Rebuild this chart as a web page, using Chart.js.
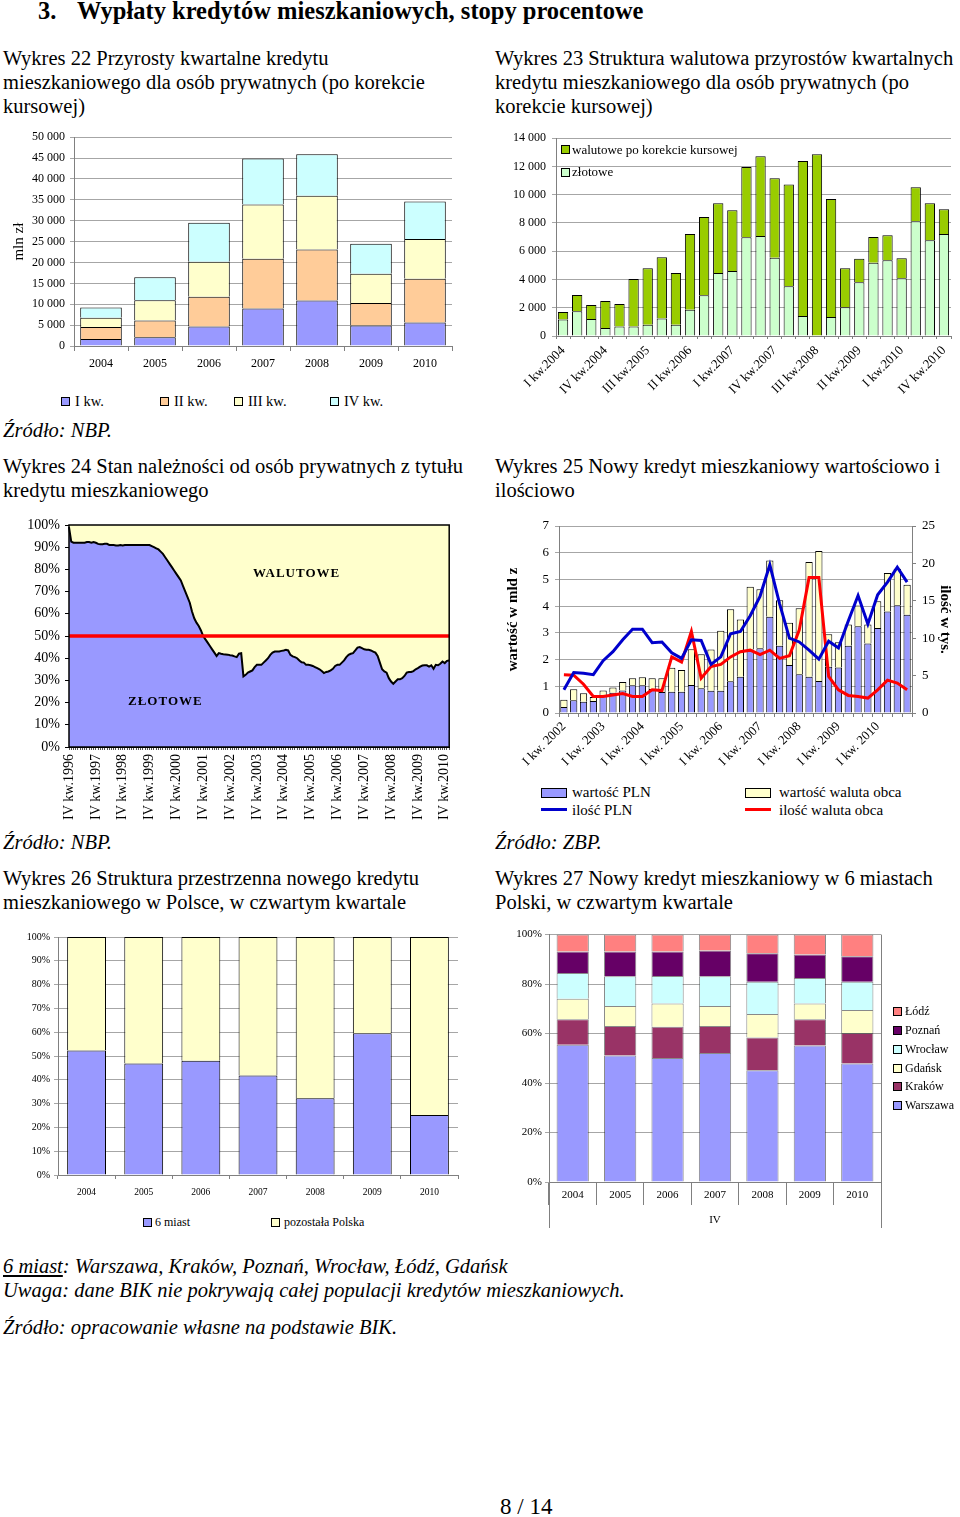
<!DOCTYPE html>
<html><head><meta charset="utf-8">
<script src="https://cdn.jsdelivr.net/npm/chart.js@4.4.1/dist/chart.umd.min.js"></script>
<style>
html,body{margin:0;padding:0;background:#fff;}
body{width:960px;height:1517px;position:relative;overflow:hidden;font-family:'Liberation Serif','Times New Roman',serif;color:#000;}
.t{position:absolute;white-space:nowrap;}
.h{font-size:20.5px;line-height:24px;}
.it{font-style:italic;}
.box{position:absolute;width:7px;height:7px;border:1px solid #000;}
canvas{position:absolute;}
</style></head><body>

<div class="t" style="left:38px;top:-3px;font-size:24.5px;line-height:28px;font-weight:bold;">3.</div>
<div class="t" style="left:77px;top:-3px;font-size:24.5px;line-height:28px;font-weight:bold;">Wypłaty kredytów mieszkaniowych, stopy procentowe</div>

<div class="t h" style="left:3px;top:46px;">Wykres 22 Przyrosty kwartalne kredytu<br>mieszkaniowego dla osób prywatnych (po korekcie<br>kursowej)</div>
<div class="t h" style="left:495px;top:46px;">Wykres 23 Struktura walutowa przyrostów kwartalnych<br>kredytu mieszkaniowego dla osób prywatnych (po<br>korekcie kursowej)</div>

<canvas id="c22" width="470" height="260" style="left:0;top:125px"></canvas>
<canvas id="c23" width="470" height="285" style="left:490px;top:125px"></canvas>

<div class="box" style="left:61px;top:397px;background:#9999FF"></div><div class="t" style="left:75px;top:392px;font-size:14.5px;line-height:18px;">I kw.</div>
<div class="box" style="left:160px;top:397px;background:#FFCC99"></div><div class="t" style="left:174px;top:392px;font-size:14.5px;line-height:18px;">II kw.</div>
<div class="box" style="left:234px;top:397px;background:#FFFFCC"></div><div class="t" style="left:248px;top:392px;font-size:14.5px;line-height:18px;">III kw.</div>
<div class="box" style="left:330px;top:397px;background:#CCFFFF"></div><div class="t" style="left:344px;top:392px;font-size:14.5px;line-height:18px;">IV kw.</div>

<div class="box" style="left:561px;top:145px;background:#99CC00"></div><div class="t" style="left:572px;top:142px;font-size:13px;line-height:16px;">walutowe po korekcie kursowej</div>
<div class="box" style="left:561px;top:168px;background:#CCFFCC"></div><div class="t" style="left:572px;top:164px;font-size:13px;line-height:16px;">złotowe</div>

<div class="t h it" style="left:3px;top:418px;">Źródło: NBP.</div>

<div class="t h" style="left:3px;top:454px;">Wykres 24 Stan należności od osób prywatnych z tytułu<br>kredytu mieszkaniowego</div>
<div class="t h" style="left:495px;top:454px;">Wykres 25 Nowy kredyt mieszkaniowy wartościowo i<br>ilościowo</div>

<canvas id="c24" width="470" height="320" style="left:0;top:510px"></canvas>
<canvas id="c25" width="470" height="270" style="left:490px;top:510px"></canvas>

<div class="t" style="left:253px;top:565px;font-size:13px;line-height:16px;font-weight:bold;letter-spacing:1px;">WALUTOWE</div>
<div class="t" style="left:128px;top:693px;font-size:13px;line-height:16px;font-weight:bold;letter-spacing:1px;">ZŁOTOWE</div>

<div class="t" style="left:541px;top:788px;width:24px;height:8px;border:1px solid #000;background:#9999FF"></div>
<div class="t" style="left:572px;top:783px;font-size:15px;line-height:18px;">wartość PLN</div>
<div class="t" style="left:745px;top:788px;width:24px;height:8px;border:1px solid #000;background:#FFFFCC"></div>
<div class="t" style="left:779px;top:783px;font-size:15px;line-height:18px;">wartość waluta obca</div>
<div class="t" style="left:541px;top:808px;width:26px;height:3px;background:#0000CC"></div>
<div class="t" style="left:572px;top:801px;font-size:15px;line-height:18px;">ilość PLN</div>
<div class="t" style="left:745px;top:808px;width:26px;height:3px;background:#FF0000"></div>
<div class="t" style="left:779px;top:801px;font-size:15px;line-height:18px;">ilość waluta obca</div>

<div class="t h it" style="left:3px;top:830px;">Źródło: NBP.</div>
<div class="t h it" style="left:495px;top:830px;">Źródło: ZBP.</div>

<div class="t h" style="left:3px;top:866px;">Wykres 26 Struktura przestrzenna nowego kredytu<br>mieszkaniowego w Polsce, w czwartym kwartale</div>
<div class="t h" style="left:495px;top:866px;">Wykres 27 Nowy kredyt mieszkaniowy w 6 miastach<br>Polski, w czwartym kwartale</div>

<canvas id="c26" width="470" height="280" style="left:0;top:925px"></canvas>
<canvas id="c27" width="470" height="310" style="left:490px;top:925px"></canvas>

<div class="box" style="left:143px;top:1218px;background:#9999FF"></div><div class="t" style="left:155px;top:1214px;font-size:12px;line-height:16px;">6 miast</div>
<div class="box" style="left:271px;top:1218px;background:#FFFFCC"></div><div class="t" style="left:284px;top:1214px;font-size:12px;line-height:16px;">pozostała Polska</div>

<div class="box" style="left:893px;top:1007px;background:#FF8080"></div><div class="t" style="left:905px;top:1003px;font-size:12px;line-height:16px;">Łódź</div>
<div class="box" style="left:893px;top:1026px;background:#660066"></div><div class="t" style="left:905px;top:1022px;font-size:12px;line-height:16px;">Poznań</div>
<div class="box" style="left:893px;top:1045px;background:#CCFFFF"></div><div class="t" style="left:905px;top:1041px;font-size:12px;line-height:16px;">Wrocław</div>
<div class="box" style="left:893px;top:1064px;background:#FFFFCC"></div><div class="t" style="left:905px;top:1060px;font-size:12px;line-height:16px;">Gdańsk</div>
<div class="box" style="left:893px;top:1082px;background:#993366"></div><div class="t" style="left:905px;top:1078px;font-size:12px;line-height:16px;">Kraków</div>
<div class="box" style="left:893px;top:1101px;background:#9999FF"></div><div class="t" style="left:905px;top:1097px;font-size:12px;line-height:16px;">Warszawa</div>

<div class="t h it" style="left:3px;top:1254px;"><span style="text-decoration:underline">6 miast</span>: Warszawa, Kraków, Poznań, Wrocław, Łódź, Gdańsk<br>Uwaga: dane BIK nie pokrywają całej populacji kredytów mieszkaniowych.</div>
<div class="t h it" style="left:3px;top:1315px;">Źródło: opracowanie własne na podstawie BIK.</div>

<div class="t" style="left:500px;top:1493px;font-size:23px;line-height:28px;">8 / 14</div>

<script>
// ---------- DATA ----------
// Wykres 22
const years22 = ['2004','2005','2006','2007','2008','2009','2010'];
const kw1_22 = [1700, 2100, 4650, 9000, 10900, 4900, 5600];
const kw2_22 = [2850, 4000, 7150, 11900, 12200, 5400, 10500];
const kw3_22 = [2200, 4850, 8400, 13000, 12900, 7000, 9500];
const kw4_22 = [2450, 5500, 9300, 11000, 9900, 7200, 9000];
const yTicks22 = [0, 5000, 10000, 15000, 20000, 25000, 30000, 35000, 40000, 45000, 50000];

// Wykres 23
const quarterNames = ['I','II','III','IV'];
const years23 = ['2004','2005','2006','2007','2008','2009','2010'];
const zlotowe23 = [1160, 1760, 1200, 560, 670, 670, 790, 1230, 790, 1860, 2880, 4460, 4600, 6990, 7080, 5530, 3530, 1420, 30, 1350, 2040, 3800, 5180, 5360, 4090, 8130, 6780, 7220];
const walutowe23 = [540, 1140, 1000, 1920, 1600, 3370, 4010, 4340, 3670, 5360, 5550, 4940, 4300, 4970, 5640, 5640, 7200, 10960, 12830, 8350, 2760, 1660, 1830, 1770, 1410, 2390, 2620, 1760];
const yTicks23 = [0, 2000, 4000, 6000, 8000, 10000, 12000, 14000];

// Wykres 24 (monthly, from IV kw.1996)
const xTicks24 = ['IV kw.1996','IV kw.1997','IV kw.1998','IV kw.1999','IV kw.2000','IV kw.2001','IV kw.2002','IV kw.2003','IV kw.2004','IV kw.2005','IV kw.2006','IV kw.2007','IV kw.2008','IV kw.2009','IV kw.2010'];
const zlotowe24 = [
 99, 92.5, 92, 92, 92, 92, 92, 92, 92.3, 92.3, 92, 92.3,
 92, 91.5, 91.3, 91.3, 91.5, 91.5, 91, 91, 91, 90.8, 90.8, 91,
 90.8, 91, 91, 91, 91, 91, 91, 91, 91, 91, 91, 91,
 91, 90.5, 90, 89.5, 89, 88, 87, 85.5, 84, 82.5, 81, 79.5,
 78, 76.5, 75, 72.5, 70, 67.5, 65, 61, 58, 56, 54.5, 52.5,
 50, 48.5, 47, 45.5, 44, 42.5, 41, 42.3, 42, 41.8, 41.7, 41.6,
 41.3, 41.2, 40.8, 40.5, 42, 42.2, 31.8, 32.5, 33.5, 34, 34.5, 36,
 37, 37, 37, 38, 39, 40, 41.5, 42.5, 43, 43, 43, 43.3,
 43.5, 43.8, 43.5, 41.5, 40.8, 40.5, 40, 39, 38.2, 38, 37, 37,
 36.8, 36.5, 36, 35.5, 35, 34.2, 33.3, 33.8, 34, 34.5, 35.2, 36.5,
 37, 37, 38, 39, 40.5, 41.5, 42, 42.3, 43.5, 44.8, 45, 44.5,
 44, 43.8, 43.8, 43.5, 43, 42.5, 41, 38, 35, 34, 33.5, 31,
 29.5, 28.5, 29.5, 30.5, 30.5, 31, 32, 33.5, 33.8, 33.8, 34.2, 35,
 35.5, 36.2, 36.7, 36.8, 36.8, 36.2, 36.8, 35.2, 37, 36.8, 37.5, 38.5,
 37.8, 38.8, 39];
const threshold24 = 50;
const yTicks24 = [0,10,20,30,40,50,60,70,80,90,100];

// Wykres 25
const years25 = ['2002','2003','2004','2005','2006','2007','2008','2009','2010'];
const wartoscPLN25 = [0.22, 0.48, 0.42, 0.45, 0.64, 0.76, 0.84, 1.04, 1.04, 0.9, 0.79, 0.8, 0.8, 1.05, 0.93, 0.83, 0.83, 1.19, 1.36, 2.38, 2.42, 3.6, 2.52, 1.8, 1.45, 1.36, 1.2, 1.73, 1.7, 2.52, 3.25, 2.6, 3.18, 3.8, 4.03, 3.68];
const wartoscWal25 = [0.28, 0.41, 0.32, 0.15, 0.2, 0.19, 0.32, 0.26, 0.3, 0.4, 0.51, 0.89, 0.81, 1.34, 1.27, 1.55, 2.25, 2.69, 2.14, 2.35, 2.21, 2.11, 1.7, 1.58, 2.47, 4.29, 4.86, 1.22, 0.95, 0.79, 0.77, 0.71, 1.0, 1.44, 1.37, 1.12];
const iloscPLN25 = [3.1, 5.4, 5.3, 5.13, 7.0, 8.2, 9.8, 11.2, 11.2, 9.4, 9.5, 8.05, 7.3, 9.8, 9.7, 6.5, 7.5, 10.6, 10.9, 13.0, 15.6, 19.8, 14.6, 10.0, 9.5, 8.4, 7.2, 9.6, 8.7, 12.3, 15.7, 11.9, 15.8, 17.5, 19.5, 17.5];
const iloscWal25 = [5.1, 5.05, 3.85, 2.2, 2.2, 2.4, 2.6, 2.2, 2.2, 3.1, 3.0, 7.5, 6.8, 10.9, 4.65, 6.2, 6.5, 7.5, 8.2, 8.4, 7.8, 8.4, 7.3, 7.65, 11.1, 18.1, 18.1, 4.9, 3.1, 2.35, 2.2, 2.0, 3.1, 4.4, 4.0, 3.1];
const yTicks25 = [0,1,2,3,4,5,6,7];
const y1Ticks25 = [0,5,10,15,20,25];

// Wykres 26
const years26 = ['2004','2005','2006','2007','2008','2009','2010'];
const miast26 = [52.3, 46.9, 48.0, 41.8, 32.2, 59.6, 25.2];
const pozostala26 = [47.7, 53.1, 52.0, 58.2, 67.8, 40.4, 74.8];
const yTicks26 = [0,10,20,30,40,50,60,70,80,90,100];

// Wykres 27
const years27 = ['2004','2005','2006','2007','2008','2009','2010'];
const warszawa27 = [55.5, 51.1, 50.1, 52.1, 45.2, 55.2, 47.9];
const krakow27 = [10.3, 12.0, 12.7, 11.0, 13.2, 10.6, 12.3];
const gdansk27 = [8.3, 8.0, 9.4, 8.0, 9.5, 6.4, 9.3];
const wroclaw27 = [10.4, 12.1, 11.1, 12.1, 13.0, 10.3, 11.4];
const poznan27 = [8.7, 10.0, 9.9, 10.4, 11.6, 9.5, 10.3];
const lodz27 = [6.8, 6.8, 6.8, 6.4, 7.5, 8.0, 8.8];
const yTicks27 = [0,20,40,60,80,100];

// ---------- HELPERS ----------
Chart.defaults.font.family = "'Liberation Serif','Times New Roman',serif";
Chart.defaults.color = '#000';
const quarters23 = years23.flatMap(y => quarterNames.map(q => q + ' kw.' + y));
const quarters25 = years25.flatMap(y => quarterNames.map(q => q + ' kw. ' + y));
const romanM = ['I','II','III','IV','V','VI','VII','VIII','IX','X','XI','XII'];
const months24 = zlotowe24.map((_, i) => { const m = (11 + i) % 12; const y = 1996 + Math.floor((11 + i) / 12); return romanM[m] + '.' + y; });
const sep = v => String(v).replace(/\B(?=(\d{3})+(?!\d))/g, ' ');
const fixW = w => s => { s.width = w; };
const fixH = h => s => { s.height = h; };
const setTicks = arr => s => { s.ticks = arr.map(v => ({ value: v })); };
const base = { responsive: false, animation: false, devicePixelRatio: 1, events: [],
  plugins: { legend: { display: false }, tooltip: { enabled: false } } };
const GRID = '#A6A6A6', AX = '#808080';
const barDs = (label, data, color, extra) => Object.assign({ label, data, backgroundColor: color, borderColor: '#000', borderWidth: 1, borderSkipped: 'start' }, extra || {});

// ---------- WYKRES 22 ----------
new Chart(document.getElementById('c22'), {
  type: 'bar',
  data: { labels: years22, datasets: [
    barDs('I kw.', kw1_22, '#9999FF'), barDs('II kw.', kw2_22, '#FFCC99'),
    barDs('III kw.', kw3_22, '#FFFFCC'), barDs('IV kw.', kw4_22, '#CCFFFF')
  ].map(d => Object.assign(d, { barPercentage: 0.77, categoryPercentage: 1 })) },
  options: Object.assign({}, base, {
    layout: { padding: { top: 9, right: 18, left: 0, bottom: 0 } },
    scales: {
      x: { stacked: true, grid: { offset: true, drawOnChartArea: false, tickLength: 5, color: AX }, border: { color: AX },
           ticks: { font: { size: 12 }, padding: 6 }, afterFit: fixH(39) },
      y: { stacked: true, min: 0, max: 50000, afterBuildTicks: setTicks(yTicks22),
           ticks: { callback: v => sep(v), font: { size: 12 }, padding: 5 },
           grid: { color: GRID, tickLength: 4 }, border: { color: AX },
           title: { display: true, text: 'mln zł', font: { size: 15 }, padding: { top: 10, bottom: 0 } },
           afterFit: fixW(74) }
    }
  })
});

// ---------- WYKRES 23 ----------
new Chart(document.getElementById('c23'), {
  type: 'bar',
  data: { labels: quarters23, datasets: [
    barDs('złotowe', zlotowe23, '#CCFFCC'),
    barDs('walutowe po korekcie kursowej', walutowe23, '#99CC00')
  ].map(d => Object.assign(d, { barPercentage: 0.73, categoryPercentage: 1 })) },
  options: Object.assign({}, base, {
    layout: { padding: { top: 10, right: 9, left: 0, bottom: 0 } },
    scales: {
      x: { stacked: true, grid: { offset: true, drawOnChartArea: false, tickLength: 3, color: AX }, border: { color: AX },
           ticks: { autoSkip: false, minRotation: 45, maxRotation: 45, font: { size: 13 }, padding: 4,
                    callback: (v, i) => i % 3 === 0 ? quarters23[i] : '' }, afterFit: fixH(74) },
      y: { stacked: true, min: 0, max: 14000, afterBuildTicks: setTicks(yTicks23),
           ticks: { callback: v => sep(v), font: { size: 12 }, padding: 6 },
           grid: { color: GRID, tickLength: 4 }, border: { color: AX }, afterFit: fixW(66) }
    }
  })
});

// ---------- WYKRES 24 ----------
const bg24 = { id: 'bg24', beforeDatasetsDraw(c) { const a = c.chartArea, x = c.ctx; x.save(); x.fillStyle = '#FFFFCC'; x.fillRect(a.left, a.top, a.right - a.left, a.bottom - a.top); x.restore(); },
  afterDatasetsDraw(c) { const a = c.chartArea, x = c.ctx; x.save(); x.strokeStyle = '#000'; x.lineWidth = 1.5; x.strokeRect(a.left, a.top, a.right - a.left, a.bottom - a.top); x.restore(); } };
new Chart(document.getElementById('c24'), {
  type: 'line',
  data: { labels: months24, datasets: [
    { label: '50%', data: months24.map((_, i) => (i === 0 || i === months24.length - 1) ? threshold24 : null), spanGaps: true,
      borderColor: '#FF0000', borderWidth: 3.5, pointRadius: 0, fill: false, order: 0 },
    { label: 'ZŁOTOWE', data: zlotowe24, borderColor: '#000', borderWidth: 2, pointRadius: 0, fill: 'origin', backgroundColor: '#9999FF', tension: 0, order: 1 }
  ] },
  options: Object.assign({}, base, {
    layout: { padding: { top: 15, right: 19, left: 0, bottom: 0 } },
    scales: {
      x: { offset: false, grid: { offset: false, drawOnChartArea: false, tickLength: 3, color: '#555' }, border: { color: '#000' },
           ticks: { autoSkip: false, minRotation: 90, maxRotation: 90, font: { size: 14 }, padding: 4,
                    callback: (v, i) => i % 12 === 0 ? xTicks24[i / 12] : '' }, afterFit: fixH(83) },
      y: { min: 0, max: 100, afterBuildTicks: setTicks(yTicks24),
           ticks: { callback: v => v + '%', font: { size: 14 }, padding: 5 },
           grid: { drawOnChartArea: false, tickLength: 4, color: '#000' }, border: { color: '#000' }, afterFit: fixW(69) }
    }
  }),
  plugins: [bg24]
});

// ---------- WYKRES 25 ----------
new Chart(document.getElementById('c25'), {
  type: 'bar',
  data: { labels: quarters25, datasets: [
    { type: 'line', label: 'ilość PLN', data: iloscPLN25, yAxisID: 'y1', borderColor: '#0000CC', borderWidth: 3, pointRadius: 0, order: 0 },
    { type: 'line', label: 'ilość waluta obca', data: iloscWal25, yAxisID: 'y1', borderColor: '#FF0000', borderWidth: 3, pointRadius: 0, order: 0 },
    barDs('wartość PLN', wartoscPLN25, '#9999FF', { stack: 's', order: 1, barPercentage: 0.74, categoryPercentage: 1 }),
    barDs('wartość waluta obca', wartoscWal25, '#FFFFCC', { stack: 's', order: 1, barPercentage: 0.74, categoryPercentage: 1 })
  ] },
  options: Object.assign({}, base, {
    layout: { padding: { top: 16, right: 0, left: 0, bottom: 0 } },
    scales: {
      x: { stacked: true, grid: { offset: true, drawOnChartArea: false, tickLength: 4, color: AX }, border: { color: AX },
           ticks: { autoSkip: false, minRotation: 45, maxRotation: 45, font: { size: 13 }, padding: 2,
                    callback: (v, i) => i % 4 === 0 ? quarters25[i] : '' }, afterFit: fixH(67) },
      y: { stacked: true, min: 0, max: 7, afterBuildTicks: setTicks(yTicks25),
           ticks: { font: { size: 13 }, padding: 6 }, grid: { color: GRID, tickLength: 4 }, border: { color: AX },
           title: { display: true, text: 'wartość w mld z', font: { size: 15, weight: 'bold' }, padding: { top: 14, bottom: 0 } },
           afterFit: fixW(69) },
      y1: { position: 'right', min: 0, max: 25, afterBuildTicks: setTicks(y1Ticks25),
            ticks: { font: { size: 13 }, padding: 6 }, grid: { drawOnChartArea: false, tickLength: 4, color: AX }, border: { color: AX },
            title: { display: true, text: 'ilość w tys.', font: { size: 15, weight: 'bold' }, padding: { top: 6, bottom: 0 } },
            afterFit: fixW(48) }
    }
  })
});

// ---------- WYKRES 26 ----------
new Chart(document.getElementById('c26'), {
  type: 'bar',
  data: { labels: years26, datasets: [
    barDs('6 miast', miast26, '#9999FF'), barDs('pozostała Polska', pozostala26, '#FFFFCC')
  ].map(d => Object.assign(d, { barPercentage: 0.68, categoryPercentage: 1 })) },
  options: Object.assign({}, base, {
    layout: { padding: { top: 12, right: 12, left: 0, bottom: 0 } },
    scales: {
      x: { stacked: true, grid: { offset: true, drawOnChartArea: false, tickLength: 4, color: AX }, border: { color: AX },
           ticks: { font: { size: 9.5 }, padding: 8 }, afterFit: fixH(30) },
      y: { stacked: true, min: 0, max: 100, afterBuildTicks: setTicks(yTicks26),
           ticks: { callback: v => v + '%', font: { size: 10 }, padding: 4 }, grid: { color: GRID, tickLength: 4 }, border: { color: AX },
           afterFit: fixW(58) }
    }
  })
});

// ---------- WYKRES 27 ----------
const frame27 = { id: 'frame27', afterDraw(c) { const a = c.chartArea, x = c.ctx; x.save(); x.strokeStyle = AX; x.lineWidth = 1;
  [a.left, a.right].forEach(px => { x.beginPath(); x.moveTo(Math.round(px) + 0.5, a.top); x.lineTo(Math.round(px) + 0.5, a.bottom + 46); x.stroke(); }); x.restore(); } };
new Chart(document.getElementById('c27'), {
  type: 'bar',
  data: { labels: years27, datasets: [
    ['Warszawa', warszawa27, '#9999FF'], ['Kraków', krakow27, '#993366'], ['Gdańsk', gdansk27, '#FFFFCC'],
    ['Wrocław', wroclaw27, '#CCFFFF'], ['Poznań', poznan27, '#660066'], ['Łódź', lodz27, '#FF8080']
  ].map(([l, d, c]) => ({ label: l, data: d, backgroundColor: c, borderColor: 'rgba(40,40,40,0.55)', borderWidth: 1, borderSkipped: 'start', barPercentage: 0.68, categoryPercentage: 1 })) },
  options: Object.assign({}, base, {
    layout: { padding: { top: 7, right: 79, left: 0, bottom: 0 } },
    scales: {
      x: { stacked: true, grid: { offset: true, drawOnChartArea: false, tickLength: 23, color: AX }, border: { color: AX },
           ticks: { font: { size: 11 }, padding: -16 },
           title: { display: true, text: 'IV', font: { size: 11 }, padding: { top: 0, bottom: 8 } }, afterFit: fixH(53) },
      y: { stacked: true, min: 0, max: 100, afterBuildTicks: setTicks(yTicks27),
           ticks: { callback: v => v + '%', font: { size: 11 }, padding: 3 }, grid: { color: GRID, tickLength: 4 }, border: { color: AX },
           afterFit: fixW(59) }
    }
  }),
  plugins: [frame27]
});
</script>
</body></html>
